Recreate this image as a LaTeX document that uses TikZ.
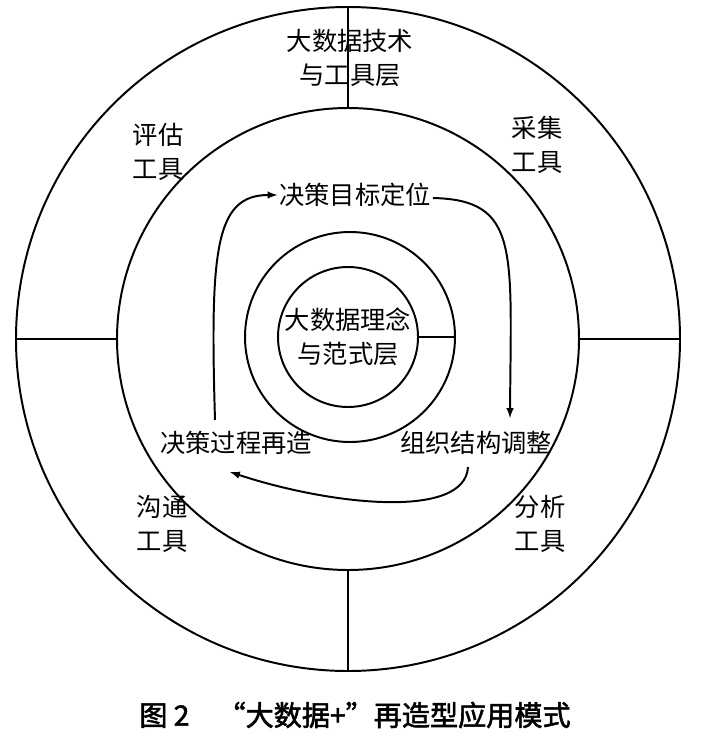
\documentclass[tikz,border=0pt]{standalone}
\usepackage{fontspec}
\newfontfamily\cjk{Noto Sans CJK SC}
\newfontfamily\cjkbold[FakeBold=2]{Noto Sans CJK SC}
\usetikzlibrary{positioning}

\begin{document}
\begin{tikzpicture}[x=0.025cm,y=-0.025cm]
\tikzstyle{ring}=[draw, line width=1.4pt]
\tikzstyle{lbl}=[font=\cjk\fontsize{18}{24}\selectfont, align=center, inner sep=1pt]
\tikzstyle{connect}=[-latex, line width=1.4pt]
\useasboundingbox (0,0) rectangle (700,742);
% rings
  \draw[ring] (348,339) circle (332*0.025cm);
  \draw[ring] (348,339) circle (231*0.025cm);
  \draw[ring] (350,337) circle (105*0.025cm);
  \draw[ring] (348,337) circle (70*0.025cm);
% dividers
  \draw[line width=1.2pt] (348,7) -- (348,108)
           (348,570) -- (348,671)
           (16,339) -- (117,339)
           (579,339) -- (680,339)
           (418,337) -- (455,337);
% labels
  \node[lbl] (core) at (348,337) {大数据理念\\与范式层};
  \node[lbl] (tech) at (350,58) {大数据技术\\与工具层};
  \node[lbl] (collect) at (537,145) {采集\\工具};
  \node[lbl] (assess) at (158,152) {评估\\工具};
  \node[lbl] (comm) at (162,524) {沟通\\工具};
  \node[lbl] (analyse) at (540,524) {分析\\工具};
  \node[lbl] (goal) at (355,195) {决策目标定位};
  \node[lbl] (org) at (476,443) {组织结构调整};
  \node[lbl] (proc) at (236,443) {决策过程再造};
% cycle ends
  \coordinate (procup) at (215,420);
  \coordinate (goalend) at (433,198);
  \coordinate (orgtip) at (510,418);
  \coordinate (orgdown) at (468,467);
  \coordinate (proctip) at (230,472);
  \draw[connect] (procup) .. controls (210,250) and (215,195) .. (goal.west);
  \draw[connect] (goalend) .. controls (520,200) and (511,250) .. (orgtip);
  \draw[connect] (orgdown) .. controls (465,520) and (330,505) .. (proctip);
% caption
  \node[font=\cjkbold\fontsize{20}{24}\selectfont] (caption) at (355,715) {图 2\quad “大数据+”再造型应用模式};
\end{tikzpicture}
\end{document}
